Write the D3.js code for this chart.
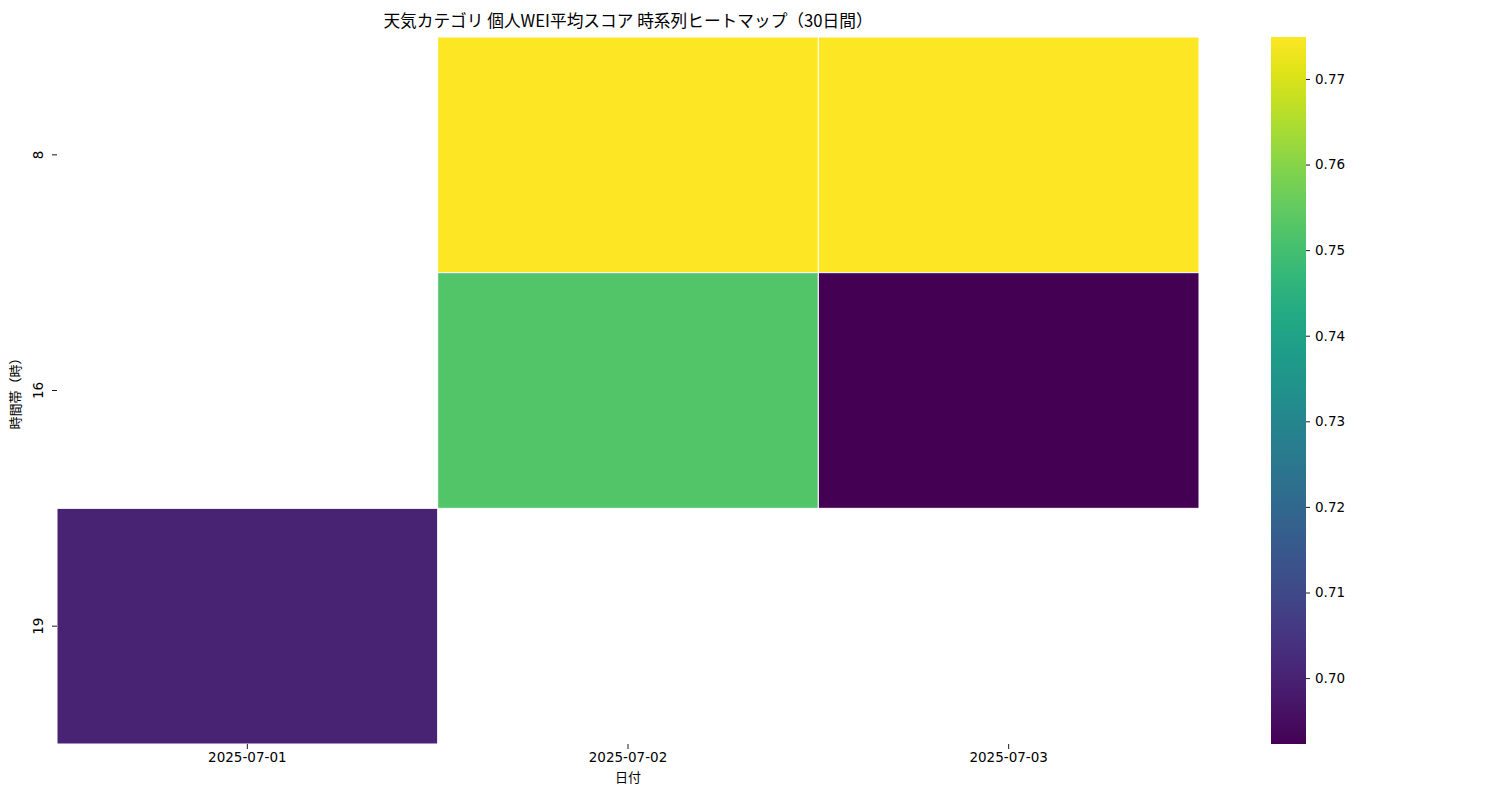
<!DOCTYPE html>
<html>
<head>
<meta charset="utf-8">
<script src="https://cdn.jsdelivr.net/npm/d3@7"></script>
<style>
  body { margin: 0; background: #fff; }
  svg { font-family: "Noto Sans CJK JP", "Noto Sans", sans-serif; }
</style>
</head>
<body>
<svg id="chart" width="1500" height="800"></svg>
<script>
// data
const dates = ["2025-07-01", "2025-07-02", "2025-07-03"];
const hours = [8, 16, 19];
// rows = hours, cols = dates; null = no data
const scores = [
  [null, 0.7749, 0.7749],
  [null, 0.7524, 0.6923],
  [0.7002, null, null]
];
const cbarTicks = [0.70, 0.71, 0.72, 0.73, 0.74, 0.75, 0.76, 0.77];

const tickFont = "'DejaVu Sans', 'Noto Sans CJK JP', sans-serif";

const svg = d3.select("#chart");
const margin = { top: 37, left: 57 };
const plotW = 1199 - 57;
const plotH = 744 - 37;

const g = svg.append("g").attr("transform", `translate(${margin.left},${margin.top})`);

const x = d3.scaleBand().domain(dates).range([0, plotW]);
const y = d3.scaleBand().domain(hours).range([0, plotH]);

const vals = scores.flat().filter(v => v !== null);
const color = d3.scaleSequential(d3.interpolateViridis).domain(d3.extent(vals));

const cells = [];
scores.forEach((row, i) => row.forEach((v, j) => {
  if (v !== null) cells.push({ hour: hours[i], date: dates[j], v });
}));

g.selectAll("rect.cell")
  .data(cells)
  .join("rect")
  .attr("class", "cell")
  .attr("x", d => x(d.date))
  .attr("y", d => y(d.hour))
  .attr("width", x.bandwidth())
  .attr("height", y.bandwidth())
  .attr("fill", d => color(d.v))
  .attr("stroke", "#fff")
  .attr("stroke-width", 1);

// x axis
const xAxis = g.append("g")
  .attr("transform", `translate(0,${plotH})`)
  .call(d3.axisBottom(x).tickSize(5).tickPadding(3));
xAxis.select(".domain").remove();
xAxis.selectAll("line").attr("stroke", "#000").attr("stroke-width", 0.9);
xAxis.selectAll("text").attr("font-size", 13.5).attr("fill", "#000")
  .attr("font-family", tickFont);

// y axis
const yAxis = g.append("g")
  .call(d3.axisLeft(y).tickSize(5).tickPadding(3));
yAxis.select(".domain").remove();
yAxis.selectAll("line").attr("stroke", "#000").attr("stroke-width", 0.9);
yAxis.selectAll("text")
  .attr("font-size", 13.5).attr("fill", "#000")
  .attr("font-family", tickFont)
  .attr("text-anchor", "middle")
  .attr("dy", null)
  .attr("x", null)
  .attr("transform", "translate(-19,0) rotate(-90)")
  .attr("dominant-baseline", "central");

// axis labels
g.append("text")
  .attr("x", plotW / 2)
  .attr("y", plotH + 38)
  .attr("text-anchor", "middle")
  .attr("font-size", 13)
  .text("日付");

g.append("text")
  .attr("transform", `translate(-37,${plotH / 2}) rotate(-90)`)
  .attr("text-anchor", "middle")
  .attr("font-size", 13)
  .text("時間帯（時）");

// title
svg.append("text")
  .attr("x", margin.left + plotW / 2)
  .attr("y", 27)
  .attr("text-anchor", "middle")
  .attr("font-size", 16.7)
  .text("天気カテゴリ 個人WEI平均スコア 時系列ヒートマップ（30日間）");

// colorbar
const cbX = 1271, cbW = 35, cbTop = 37, cbH = plotH;
const defs = svg.append("defs");
const grad = defs.append("linearGradient")
  .attr("id", "cbgrad")
  .attr("x1", 0).attr("y1", 1).attr("x2", 0).attr("y2", 0);
d3.range(0, 1.0001, 0.05).forEach(t => {
  grad.append("stop").attr("offset", t).attr("stop-color", d3.interpolateViridis(t));
});
svg.append("rect")
  .attr("x", cbX).attr("y", cbTop)
  .attr("width", cbW).attr("height", cbH)
  .attr("fill", "url(#cbgrad)");

const cbScale = d3.scaleLinear().domain(color.domain()).range([cbTop + cbH, cbTop]);
const cbAxis = svg.append("g")
  .attr("transform", `translate(${cbX + cbW},0)`)
  .call(d3.axisRight(cbScale).tickValues(cbarTicks).tickFormat(d3.format(".2f")).tickSize(4).tickPadding(5));
cbAxis.select(".domain").remove();
cbAxis.selectAll("line").attr("stroke", "#000").attr("stroke-width", 0.9);
cbAxis.selectAll("text").attr("font-size", 13.5).attr("fill", "#000")
  .attr("font-family", tickFont);
</script>
</body>
</html>
